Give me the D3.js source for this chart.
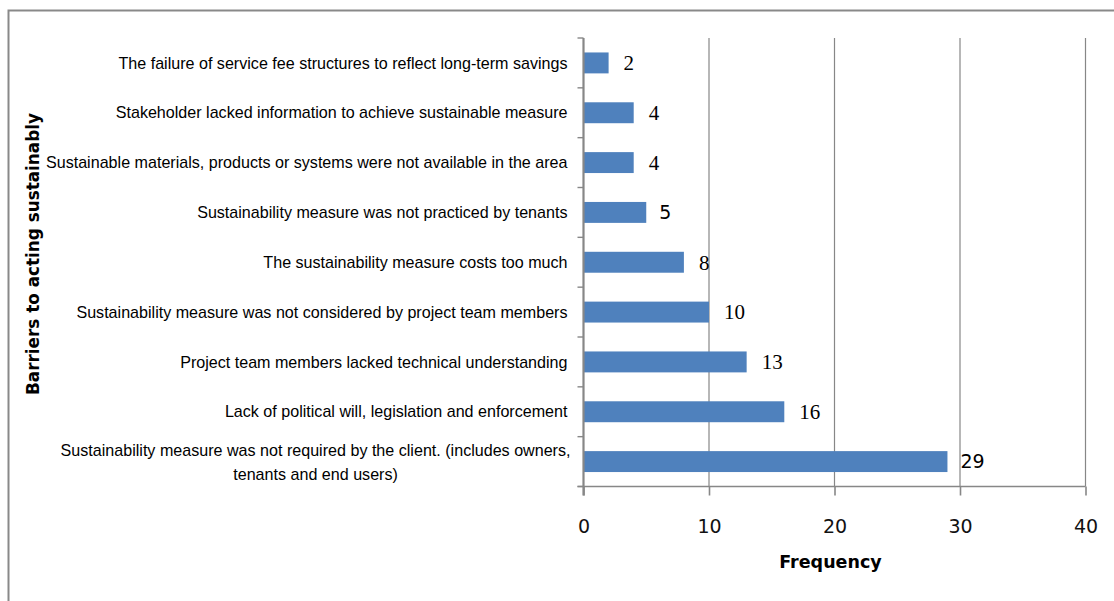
<!DOCTYPE html>
<html>
<head>
<meta charset="utf-8">
<script src="https://cdn.jsdelivr.net/npm/d3@7"></script>
<style>
  html, body { margin: 0; padding: 0; background: #fff; }
  svg { display: block; }
</style>
</head>
<body>
<svg id="chart" width="1114" height="601"></svg>
<script>
// Barriers reported, top to bottom
const categories = [
  "The failure of service fee structures to reflect long-term savings",
  "Stakeholder lacked information to achieve sustainable measure",
  "Sustainable materials, products or systems were not available in the area",
  "Sustainability measure was not practiced by tenants",
  "The sustainability measure costs too much",
  "Sustainability measure was not considered by project team members",
  "Project team members lacked technical understanding",
  "Lack of political will, legislation and enforcement",
  "Sustainability measure was not required by the client. (includes owners,|tenants and end users)"
];
const frequency = [2, 4, 4, 5, 8, 10, 13, 16, 29];
const xTicks = [0, 10, 20, 30, 40];

const svg = d3.select("#chart");
const W = 1114, H = 601;
const plot = { left: 583.5, right: 1085.5, top: 38, bottom: 486.5 };

// outer frame
svg.append("rect")
  .attr("x", 8.5).attr("y", 10.5)
  .attr("width", W + 20).attr("height", H + 20)
  .attr("fill", "none").attr("stroke", "#898989").attr("stroke-width", 2);

const x = d3.scaleLinear().domain([0, 40]).range([plot.left, plot.right]);
const y = d3.scaleBand().domain(categories).range([plot.top, plot.bottom]).paddingInner(0.58).paddingOuter(0.29);

// vertical gridlines
svg.append("g").selectAll("line")
  .data(xTicks.filter(t => t > 0))
  .join("line")
  .attr("x1", d => x(d)).attr("x2", d => x(d))
  .attr("y1", plot.top).attr("y2", plot.bottom)
  .attr("stroke", "#878787").attr("stroke-width", 1.2);

// bars
svg.append("g").selectAll("rect")
  .data(categories)
  .join("rect")
  .attr("x", plot.left)
  .attr("y", d => y(d))
  .attr("width", (d, i) => x(frequency[i]) - x(0))
  .attr("height", y.bandwidth())
  .attr("fill", "#4F81BD");

// x axis
const xAxis = d3.axisBottom(x).tickValues(xTicks).tickSize(9).tickPadding(24).tickFormat(d3.format("d"));
const gx = svg.append("g").attr("transform", `translate(0,${plot.bottom})`).call(xAxis);
gx.select(".domain").attr("stroke", "#878787").attr("stroke-width", 1.6).attr("d", `M${plot.left - 6},0H${plot.right}`);
gx.selectAll(".tick line").attr("stroke", "#878787").attr("stroke-width", 1.6);
gx.selectAll(".tick text")
  .attr("font-family", "DejaVu Sans, Verdana, sans-serif")
  .attr("font-size", 19).attr("fill", "#111");

// category axis: line and boundary ticks
const bandStep = (plot.bottom - plot.top) / categories.length;
svg.append("line")
  .attr("x1", plot.left).attr("x2", plot.left)
  .attr("y1", plot.top).attr("y2", plot.bottom + 9)
  .attr("stroke", "#878787").attr("stroke-width", 2.2);
svg.append("g").selectAll("line")
  .data(d3.range(categories.length + 1))
  .join("line")
  .attr("x1", plot.left - 6).attr("x2", plot.left)
  .attr("y1", i => plot.top + i * bandStep).attr("y2", i => plot.top + i * bandStep)
  .attr("stroke", "#878787").attr("stroke-width", 1.4);

// category labels
const labelX = plot.left - 16;
const labels = svg.append("g")
  .attr("font-family", "Liberation Sans, Arial, sans-serif")
  .attr("font-size", 16.1)
  .attr("fill", "#000");
categories.forEach((c, i) => {
  const cy = y(c) + y.bandwidth() / 2;
  const lines = c.split("|");
  if (lines.length === 1) {
    labels.append("text")
      .attr("x", labelX).attr("y", cy)
      .attr("dy", "0.35em")
      .attr("text-anchor", "end")
      .text(lines[0]);
  } else {
    const first = labels.append("text")
      .attr("x", labelX + 3).attr("y", cy - 11)
      .attr("dy", "0.35em")
      .attr("text-anchor", "end")
      .text(lines[0]);
    const w = first.node().getComputedTextLength();
    labels.append("text")
      .attr("x", labelX + 3 - w / 2).attr("y", cy + 13)
      .attr("dy", "0.35em")
      .attr("text-anchor", "middle")
      .text(lines[1]);
  }
});

// value labels
const sansValueRows = new Set([3, 8]);
svg.append("g").selectAll("text")
  .data(categories)
  .join("text")
  .attr("x", (d, i) => x(frequency[i]) + (sansValueRows.has(i) ? 13 : 15))
  .attr("y", d => y(d) + y.bandwidth() / 2)
  .attr("dy", "0.35em")
  .attr("font-family", (d, i) => sansValueRows.has(i) ? "DejaVu Sans, sans-serif" : "Liberation Serif, Times New Roman, serif")
  .attr("font-size", (d, i) => sansValueRows.has(i) ? 19 : 21)
  .attr("fill", "#000")
  .text((d, i) => frequency[i]);

// axis titles
svg.append("text")
  .attr("x", (plot.left + plot.right) / 2 - 4).attr("y", 568)
  .attr("text-anchor", "middle")
  .attr("font-family", "DejaVu Sans, Verdana, sans-serif")
  .attr("font-weight", "bold").attr("font-size", 17.5)
  .attr("fill", "#000")
  .text("Frequency");

svg.append("text")
  .attr("transform", "translate(39,254) rotate(-90)")
  .attr("text-anchor", "middle")
  .attr("font-family", "DejaVu Sans, Verdana, sans-serif")
  .attr("font-weight", "bold").attr("font-size", 17)
  .attr("textLength", 282).attr("lengthAdjust", "spacingAndGlyphs")
  .attr("fill", "#000")
  .text("Barriers to acting sustainably");
</script>
</body>
</html>
